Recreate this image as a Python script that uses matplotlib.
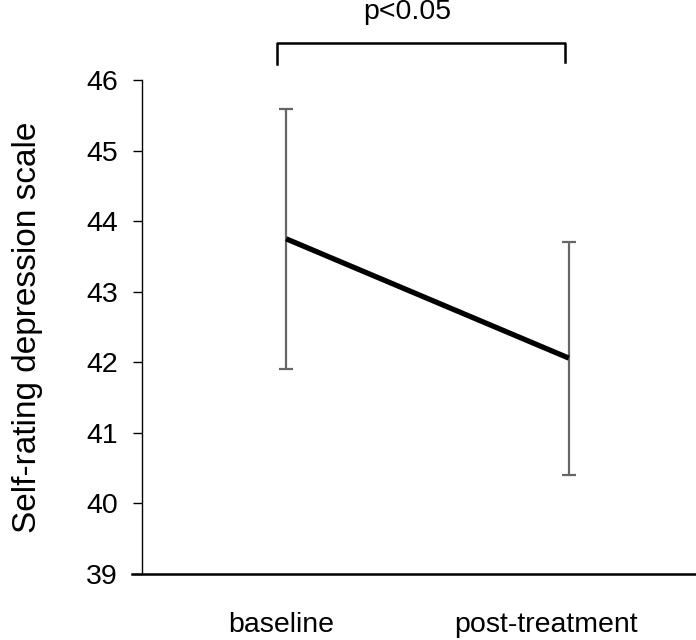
import matplotlib.pyplot as plt

plt.rcParams['font.family'] = ['Liberation Sans', 'DejaVu Sans']

# --- dados ---
grupos = ['baseline', 'post-treatment']
medias = [43.75, 42.06]
erros = [1.84, 1.65]
marcas_y = [39, 40, 41, 42, 43, 44, 45, 46]
pos_rotulos = [-0.016, 0.919]  # rótulos do eixo x não ficam centrados nos pontos

fig = plt.figure(figsize=(6.96, 6.4), dpi=100)
ax = fig.add_axes([0.204, 0.103, 0.796, 0.772])

x = list(range(len(grupos)))
ax.errorbar(x, medias, yerr=erros, fmt='none', ecolor='#666666',
            elinewidth=1.6, capsize=5, capthick=1.6, zorder=2)
ax.plot(x, medias, color='black', linewidth=3.8, solid_capstyle='butt', zorder=3)

ax.set_xlim(-0.51, 1.45)
ax.set_ylim(39, 46)
ax.set_yticks(marcas_y)
ax.set_xticks(pos_rotulos)
ax.set_xticklabels(grupos, fontsize=20.5)
ax.tick_params(axis='x', length=0, pad=27)
ax.tick_params(axis='y', length=6.5, width=1, direction='out', labelsize=20.5, pad=11)
ax.set_ylabel('Self-rating depression scale', fontsize=24)
ax.yaxis.set_label_coords(-0.178, 0.5)

for lado in ['top', 'right']:
    ax.spines[lado].set_visible(False)
ax.spines['left'].set_linewidth(1)
ax.spines['bottom'].set_linewidth(1.8)
ax.spines['bottom'].set_bounds(-0.545, 1.45)

# colchete de significância
ax.plot([-0.033, -0.033, 0.988, 0.988], [46.22, 46.52, 46.52, 46.25],
        color='black', linewidth=1.8, clip_on=False)
ax.text(0.43, 46.97, 'p<0.05', ha='center', va='center', fontsize=20.5, clip_on=False)

fig.savefig('out.png', dpi=100)
plt.close(fig)
